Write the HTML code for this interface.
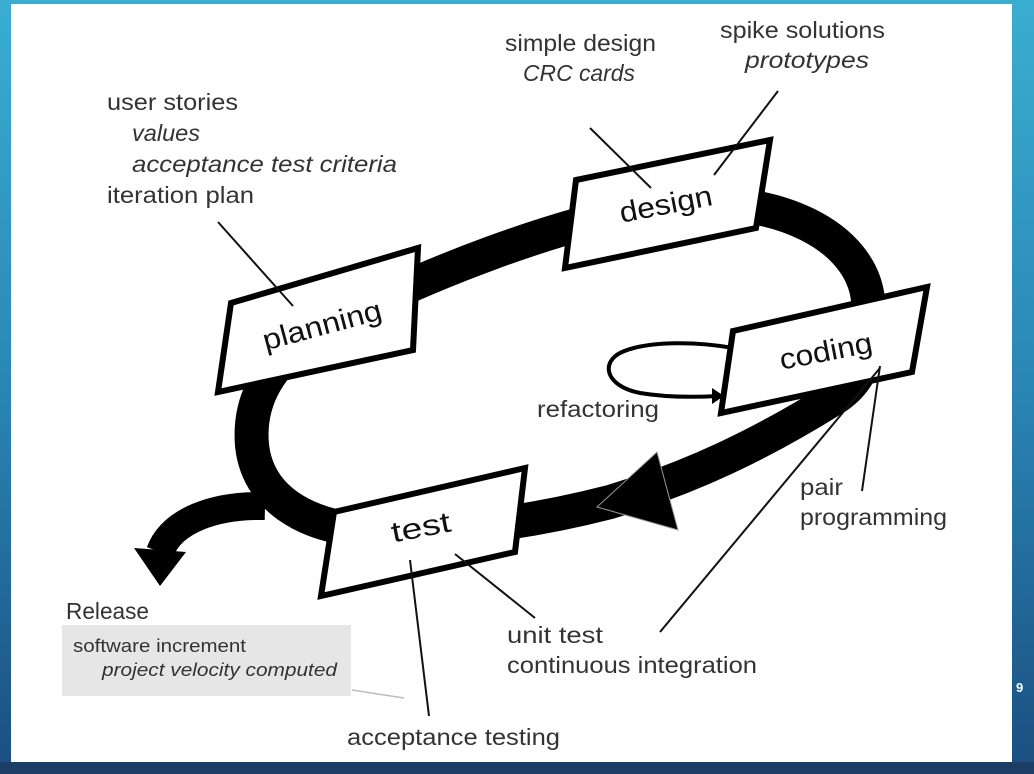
<!DOCTYPE html>
<html><head><meta charset="utf-8"><style>
html,body{margin:0;padding:0}
body{width:1034px;height:774px;overflow:hidden;background:linear-gradient(180deg,#3aaed0 0%,#2a86b4 50%,#1b4e80 100%);position:relative;font-family:"Liberation Sans",sans-serif}
#p{position:absolute;left:11px;top:4px;width:1001px;height:758px;background:#fff}
#bot{position:absolute;left:0;top:762px;width:1034px;height:12px;background:#1c3d66}
svg{position:absolute;left:0;top:0}
text{font-family:"Liberation Sans",sans-serif;fill:#333;font-size:23px}
.i{font-style:italic}
.b{fill:#111;font-size:29px}
</style></head><body>
<div id="p"></div><div id="bot"></div>
<svg width="1034" height="774" viewBox="0 0 1034 774">
<path d="M320,330 C420,275 560,222 665,205 C780,192 862,238 868,300 C873,345 866,378 835,398 C760,445 690,478 610,502 C540,520 470,530 420,530 C320,540 258,505 252,445 C248,400 270,360 320,330 Z" fill="none" stroke="#000" stroke-width="34"/>
<path d="M265,506 C215,505 172,520 160,552" fill="none" stroke="#000" stroke-width="28"/>
<polygon points="597,507 657,452 678,530" fill="#000" stroke="#999" stroke-width="1"/>
<polygon points="134,548 186,552 160,586" fill="#000"/>
<g fill="#fff" stroke="#000" stroke-width="6" stroke-linejoin="miter">
  <polygon points="231,303 418,248 413,350 218,392"/>
  <polygon points="576,180 770,140 756,228 565,268"/>
  <polygon points="733,331 927,287 912,372 721,413"/>
  <polygon points="334,512 525,468 515,552 321,596"/>
</g>
<path d="M733,348 C700,342 650,340 622,352 C600,362 605,386 640,393 C670,398 700,397 718,396" fill="none" stroke="#000" stroke-width="4"/>
<polygon points="724,396 712,388 712,404" fill="#000"/>
<g lengthAdjust="spacingAndGlyphs">
<text class="b" x="322" y="335" text-anchor="middle" transform="rotate(-15 322 325)" textLength="122" lengthAdjust="spacingAndGlyphs">planning</text>
<text class="b" x="666" y="214" text-anchor="middle" transform="rotate(-11 666 205)" textLength="94" lengthAdjust="spacingAndGlyphs">design</text>
<text class="b" x="826" y="361" text-anchor="middle" transform="rotate(-11 826 352)" textLength="94" lengthAdjust="spacingAndGlyphs">coding</text>
<text class="b" x="421" y="537" text-anchor="middle" transform="rotate(-11 421 528)" textLength="60" lengthAdjust="spacingAndGlyphs">test</text>
</g>
<g stroke="#111" stroke-width="2">
  <line x1="218" y1="222" x2="293" y2="306"/>
  <line x1="590" y1="128" x2="651" y2="188"/>
  <line x1="778" y1="91" x2="714" y2="175"/>
  <line x1="862" y1="491" x2="880" y2="366"/>
  <line x1="660" y1="632" x2="880" y2="368"/>
  <line x1="535" y1="618" x2="455" y2="554"/>
  <line x1="429" y1="716" x2="410" y2="560"/>
</g>
<line x1="352" y1="690" x2="404" y2="698" stroke="#bbb" stroke-width="1.5"/>
<text x="107" y="110" textLength="131" lengthAdjust="spacingAndGlyphs">user stories</text>
<text class="i" x="132" y="141" textLength="68" lengthAdjust="spacingAndGlyphs">values</text>
<text class="i" x="132" y="172" textLength="265" lengthAdjust="spacingAndGlyphs">acceptance test criteria</text>
<text x="107" y="203" textLength="147" lengthAdjust="spacingAndGlyphs">iteration plan</text>
<text x="505" y="51" textLength="151" lengthAdjust="spacingAndGlyphs">simple design</text>
<text class="i" x="523" y="81" textLength="112" lengthAdjust="spacingAndGlyphs">CRC cards</text>
<text x="720" y="38" textLength="165" lengthAdjust="spacingAndGlyphs">spike solutions</text>
<text class="i" x="745" y="68" textLength="124" lengthAdjust="spacingAndGlyphs">prototypes</text>
<text x="537" y="417" textLength="122" lengthAdjust="spacingAndGlyphs">refactoring</text>
<text x="800" y="495" textLength="43" lengthAdjust="spacingAndGlyphs">pair</text>
<text x="800" y="525" textLength="147" lengthAdjust="spacingAndGlyphs">programming</text>
<text x="507" y="643" textLength="96" lengthAdjust="spacingAndGlyphs">unit test</text>
<text x="507" y="673" textLength="250" lengthAdjust="spacingAndGlyphs">continuous integration</text>
<text x="347" y="745" textLength="213" lengthAdjust="spacingAndGlyphs">acceptance testing</text>
<text x="66" y="619" textLength="83" lengthAdjust="spacingAndGlyphs">Release</text>
<rect x="62" y="625" width="289" height="71" fill="#e6e6e6"/>
<text x="73" y="652" style="font-size:18px" textLength="173" lengthAdjust="spacingAndGlyphs">software increment</text>
<text class="i" x="102" y="676" style="font-size:18px" textLength="235" lengthAdjust="spacingAndGlyphs">project velocity computed</text>
<text x="1016" y="692" style="font-size:13px;fill:#fff;font-weight:bold">9</text>
</svg>
</body></html>
